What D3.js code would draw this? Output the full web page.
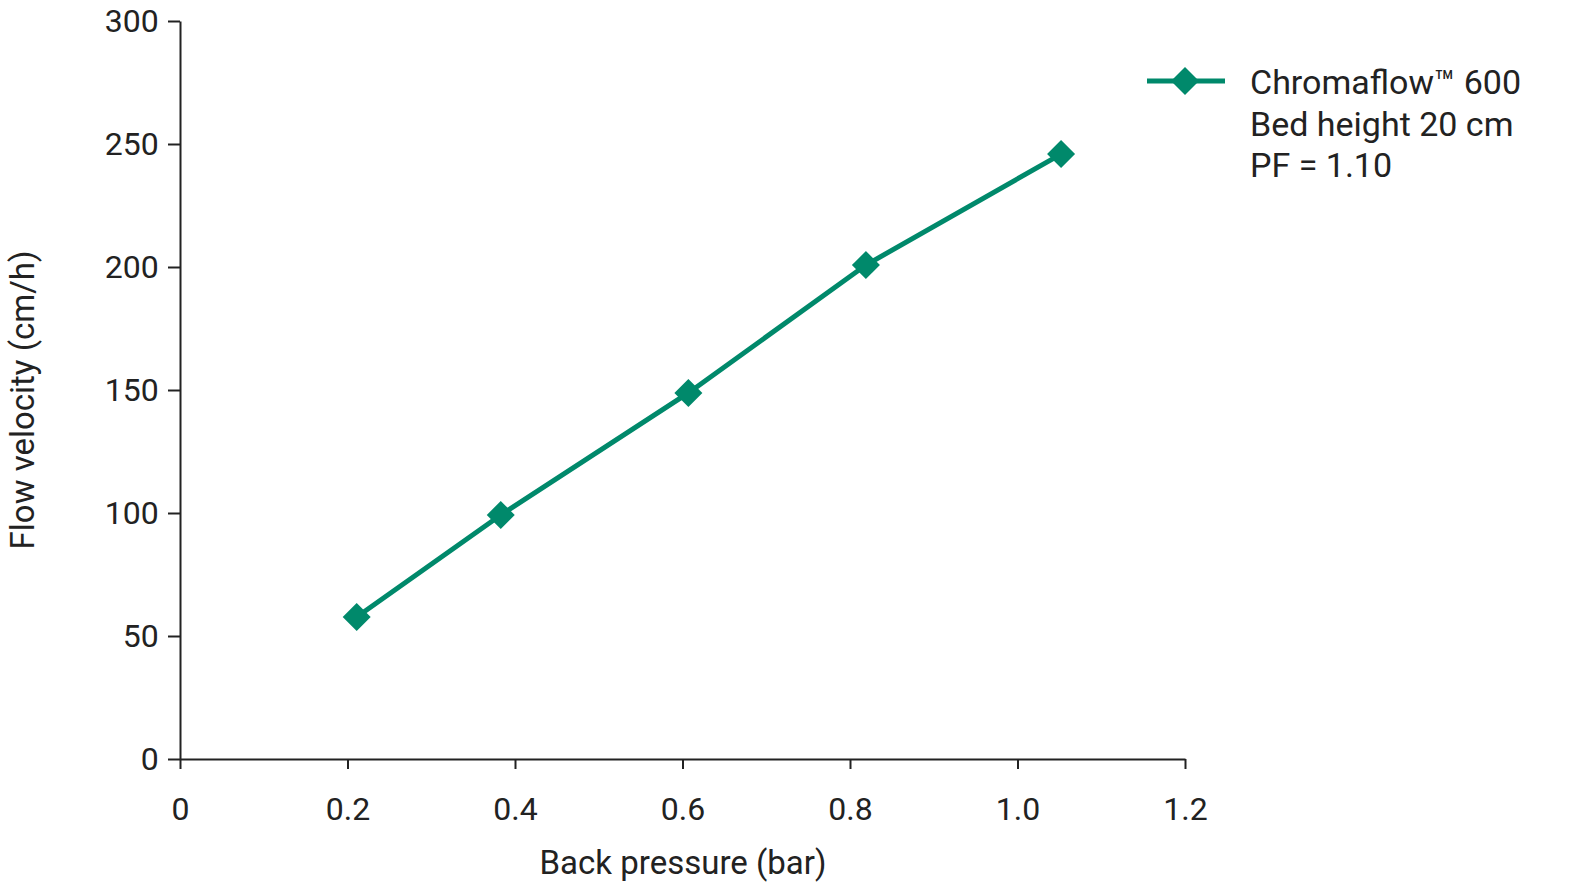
<!DOCTYPE html><html><head><script src="https://cdn.jsdelivr.net/npm/d3@7"></script>
<style>body{margin:0;background:#fff}text{font-family:Roboto,"Noto Sans",sans-serif;fill:#222}</style></head><body>
<svg id="c" width="1569" height="885"></svg>
<script>
const xValues=[0.211,0.383,0.607,0.819,1.052];
const yValues=[57.7,99.2,148.8,200.8,245.9];
const xTicks=[0,0.2,0.4,0.6,0.8,1.0,1.2];
const yTicks=[0,50,100,150,200,250,300];
const legendLines=["Chromaflow™ 600","Bed height 20 cm","PF = 1.10"];
const color="#00896b";
const svg=d3.select("#c");
const x=d3.scaleLinear().domain([0,1.2]).range([180,1185]);
const y=d3.scaleLinear().domain([0,300]).range([759,21]);
const fmtX=d=>d===0?"0":d.toFixed(1);
const gx=svg.append("g").attr("transform","translate(0,759)").call(d3.axisBottom(x).tickValues(xTicks).tickFormat(fmtX).tickSize(10).tickSizeOuter(0));
const gy=svg.append("g").attr("transform","translate(180,0)").call(d3.axisLeft(y).tickValues(yTicks).tickSize(12).tickSizeOuter(0));
[gx,gy].forEach(g=>{g.selectAll("path,line").attr("stroke","#222").attr("stroke-width",2);g.selectAll("text").style("font-size","32px").attr("fill","#222");});
gx.selectAll("text").attr("dy","1.5em");
gy.selectAll("text").attr("dx","-0.2em");
svg.append("text").attr("x",683).attr("y",874).attr("text-anchor","middle").style("font-size","33px").text("Back pressure (bar)");
svg.append("text").attr("transform","translate(34,400) rotate(-90)").attr("text-anchor","middle").style("font-size","33px").text("Flow velocity (cm/h)");
const pts=xValues.map((v,i)=>[v,yValues[i]]);
svg.append("path").datum(pts).attr("fill","none").attr("stroke",color).attr("stroke-width",5).attr("d",d3.line().x(d=>x(d[0])).y(d=>y(d[1])));
const diamond=d3.symbol().type(d3.symbolDiamond2).size(500);
svg.selectAll(".m").data(pts).join("path").attr("fill",color).attr("transform",d=>`translate(${x(d[0])},${y(d[1])}) rotate(0)`).attr("d",diamond);
svg.append("line").attr("x1",1147).attr("x2",1225).attr("y1",81).attr("y2",81).attr("stroke",color).attr("stroke-width",5);
svg.append("path").attr("fill",color).attr("transform","translate(1185,81)").attr("d",diamond);
legendLines.forEach((t,i)=>svg.append("text").attr("x",1250).attr("y",94+i*41.5).style("font-size","34px").text(t));
</script></body></html>
